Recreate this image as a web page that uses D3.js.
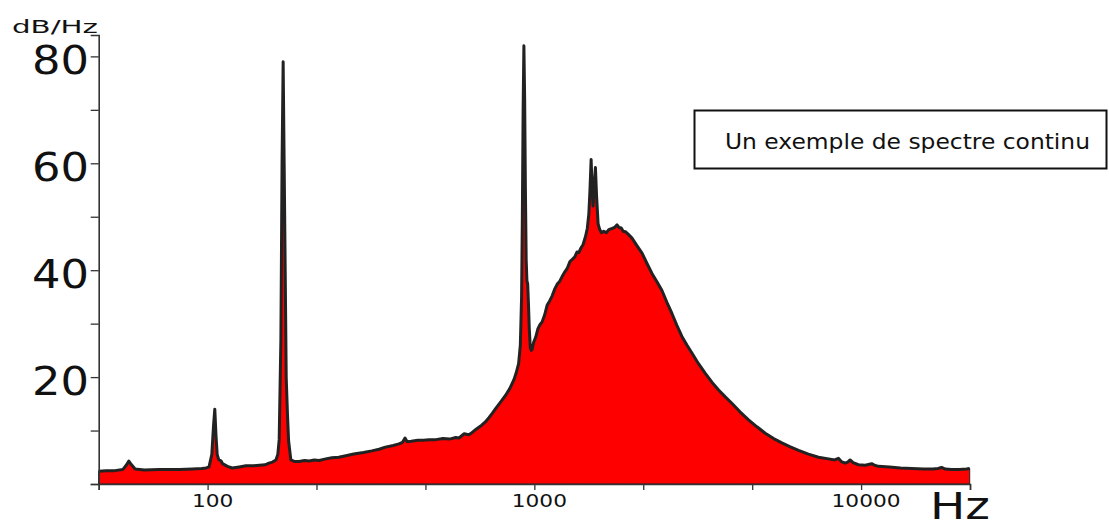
<!DOCTYPE html>
<html>
<head>
<meta charset="utf-8">
<script src="https://cdn.jsdelivr.net/npm/d3@7"></script>
<style>
  body { margin: 0; background: #fff; }
  svg { display: block; }
</style>
</head>
<body>
<svg id="chart" width="1109" height="529"></svg>
<script>
// spectrum (Hz, dB/Hz)
const freqs = [
  46.4, 49, 52, 55, 56.5, 57.4, 58.5, 60, 64, 71, 78, 82, 90, 96, 99, 101, 103, 104.3, 105.2, 106.1,
  107, 108.1, 110, 111.1, 115, 119, 125, 131, 138, 144, 150, 154, 158, 161.8, 164, 165.6, 167.6, 169, 170.3, 171.5,
  172.8, 174, 175.6, 177, 179.8, 185, 190.6, 198, 204.6, 212, 219.5, 230, 240, 252, 265, 280, 300, 318, 335, 350,
  370, 385, 395, 402, 408, 420, 440, 458, 476, 500, 525, 550, 575, 588, 610, 630, 644, 665, 690, 708,
  726, 745, 765, 790, 817, 840, 866, 880, 895, 906, 914, 919, 924, 929, 934, 939, 944, 949, 954, 959,
  965, 972, 979, 985, 995, 1010, 1025, 1040, 1056, 1075, 1095, 1115, 1134, 1155, 1175, 1195, 1216, 1240, 1262, 1285,
  1305, 1330, 1350, 1368, 1390, 1410, 1434, 1452, 1468, 1480, 1492, 1503, 1513, 1525, 1538, 1550, 1567, 1585, 1605, 1631,
  1660, 1690, 1729, 1760, 1791, 1815, 1845, 1870, 1900, 1940, 1990, 2060, 2136, 2210, 2291, 2370, 2458, 2545, 2637, 2730,
  2829, 2930, 3036, 3180, 3336, 3500, 3664, 3840, 4022, 4260, 4524, 4800, 5089, 5400, 5721, 6050, 6435, 6900, 7405, 7950,
  8300, 8523, 8700, 8934, 9100, 9255, 9450, 9811, 10300, 10775, 11000, 11294, 12200, 13200, 14275, 15500, 16600, 17200, 17634, 18100,
  18923, 20000, 21000, 21500
];
const levels = [
  2.4, 2.5, 2.5, 2.7, 3.6, 4.3, 3.6, 2.8, 2.6, 2.7, 2.7, 2.7, 2.8, 2.9, 3.0, 3.2, 5.5, 11, 14, 9,
  5.5, 4.6, 4.3, 3.8, 3.3, 3.0, 3.2, 3.4, 3.4, 3.5, 3.6, 3.9, 4.1, 4.5, 5.5, 8.3, 27, 60, 79, 60,
  39.5, 20, 12.9, 8, 4.5, 4.2, 4.2, 4.4, 4.3, 4.5, 4.4, 4.7, 4.9, 5.0, 5.3, 5.6, 5.9, 6.2, 6.5, 6.9,
  7.2, 7.5, 7.8, 8.6, 7.9, 8.0, 8.2, 8.2, 8.3, 8.3, 8.5, 8.4, 8.7, 8.6, 9.4, 9.2, 9.6, 10.3, 11.0, 11.6,
  12.4, 13.3, 14.3, 15.4, 16.6, 17.8, 19.5, 20.8, 22.5, 26, 35, 50, 70, 82, 72, 55, 42, 38, 37.5, 34,
  29, 25.5, 25, 25.2, 26.5, 27.5, 29, 29.8, 30.3, 31.6, 33.5, 34.3, 35.2, 36.5, 37.4, 37.9, 38.8, 39.7, 40.4, 41.6,
  42.0, 42.5, 43.4, 43.3, 44.2, 44.8, 46.3, 47.8, 50.5, 55, 60.7, 55, 52.0, 56, 59.2, 54, 48.7, 47.6, 47.0, 47.3,
  47.0, 47.6, 47.8, 48.0, 48.5, 48.0, 47.9, 47.3, 47.2, 46.7, 46.0, 44.6, 43.2, 41.3, 39.4, 37.9, 36.2, 34.0, 31.9, 29.7,
  27.6, 26.0, 24.5, 22.5, 20.7, 19.0, 17.6, 16.3, 15.1, 13.5, 12.0, 10.7, 9.5, 8.5, 7.7, 7.0, 6.3, 5.6, 5.0, 4.7,
  4.5, 4.8, 4.2, 3.9, 4.1, 4.5, 4.0, 3.6, 3.5, 3.8, 3.5, 3.3, 3.2, 3.0, 2.9, 2.8, 2.8, 2.9, 3.1, 2.8,
  2.7, 2.7, 2.8, 2.9
];

const xTickValues = [46.42, 100, 215.4, 464.2, 1000, 2154, 4642, 10000, 21544];
const xTickLabels = ["100", "1000", "10000"];
const yTickValues = [0, 10, 20, 30, 40, 50, 60, 70, 80];
const yTickLabels = ["20", "40", "60", "80"];

const svg = d3.select("#chart");
const plotLeft = 98.7, plotRight = 970, plotBottom = 484, plotTop = 35;

const x = d3.scaleLog().domain([46.42, 21544]).range([plotLeft, plotRight]);
const y = d3.scaleLinear().domain([0, 84]).range([plotBottom, plotTop]);

const data = freqs.map((f, i) => ({ f: f, v: levels[i] }));

// red area + dark outline
svg.append("path")
    .datum(data)
    .attr("fill", "#ff0000")
    .attr("stroke", "#222")
    .attr("stroke-width", 1)
    .attr("d", d3.area().x(d => x(d.f)).y0(y(0)).y1(d => y(d.v)));

svg.append("path")
    .datum(data)
    .attr("fill", "none")
    .attr("stroke", "#222")
    .attr("stroke-width", 3)
    .attr("stroke-linejoin", "round")
    .attr("d", d3.line().x(d => x(d.f)).y(d => y(d.v)));

// axes
const xAxis = svg.append("g")
    .attr("transform", `translate(0,${plotBottom})`)
    .call(d3.axisBottom(x).tickValues(xTickValues).tickSize(6).tickFormat(""));
const yAxis = svg.append("g")
    .attr("transform", `translate(${plotLeft},0)`)
    .call(d3.axisLeft(y).tickValues(yTickValues).tickSize(8).tickFormat(""));

[xAxis, yAxis].forEach(g => {
    g.select(".domain").attr("stroke", "#333").attr("stroke-width", 1.6);
    g.selectAll(".tick line").attr("stroke", "#333").attr("stroke-width", 1.3);
});

// the original font is wide, so stretch the labels to its widths
svg.selectAll(".xlab")
    .data(xTickLabels)
    .enter().append("text")
    .attr("x", d => x(+d) + 5)
    .attr("y", 507)
    .attr("text-anchor", "middle")
    .attr("font-family", "DejaVu Sans")
    .attr("font-size", 17)
    .attr("textLength", d => d.length * 13.8)
    .attr("lengthAdjust", "spacingAndGlyphs")
    .attr("fill", "#111")
    .text(d => d);

svg.selectAll(".ylab")
    .data(yTickLabels)
    .enter().append("text")
    .attr("x", 89)
    .attr("y", d => y(+d) + 18)
    .attr("text-anchor", "end")
    .attr("font-family", "DejaVu Sans")
    .attr("font-size", 39)
    .attr("textLength", 57)
    .attr("lengthAdjust", "spacingAndGlyphs")
    .attr("fill", "#111")
    .text(d => d);

svg.append("text")
    .attr("x", 12)
    .attr("y", 33)
    .attr("font-family", "DejaVu Sans")
    .attr("font-size", 17)
    .attr("textLength", 86)
    .attr("lengthAdjust", "spacingAndGlyphs")
    .attr("fill", "#111")
    .text("dB/Hz");

svg.append("text")
    .attr("x", 930)
    .attr("y", 519)
    .attr("font-family", "DejaVu Sans")
    .attr("font-size", 37)
    .attr("textLength", 60)
    .attr("lengthAdjust", "spacingAndGlyphs")
    .attr("fill", "#111")
    .text("Hz");

// caption box
svg.append("rect")
    .attr("x", 694.5)
    .attr("y", 110.5)
    .attr("width", 412)
    .attr("height", 58)
    .attr("fill", "#fff")
    .attr("stroke", "#111")
    .attr("stroke-width", 2);

svg.append("text")
    .attr("x", 907.5)
    .attr("y", 149)
    .attr("text-anchor", "middle")
    .attr("font-family", "DejaVu Sans")
    .attr("font-size", 22)
    .attr("textLength", 365)
    .attr("lengthAdjust", "spacingAndGlyphs")
    .attr("fill", "#111")
    .text("Un exemple de spectre continu");
</script>
</body>
</html>
